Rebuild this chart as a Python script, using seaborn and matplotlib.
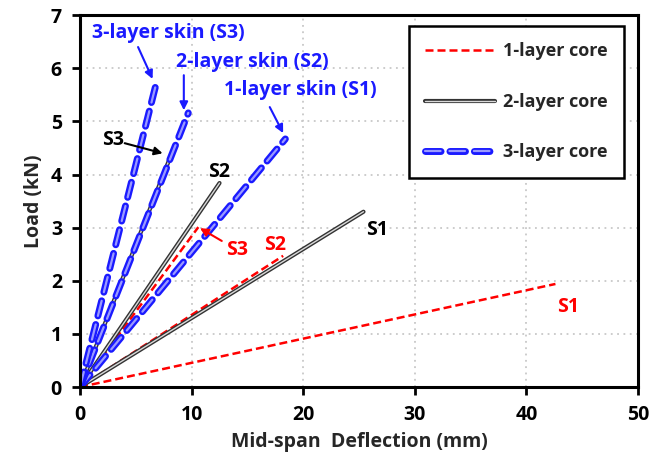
import matplotlib
matplotlib.use("Agg")
import matplotlib.pyplot as plt
import matplotlib.patheffects as pe
from matplotlib.lines import Line2D
import seaborn as sns
import pandas as pd

# ---- data (end points of load-deflection curves, start at origin) ----
core1_x = {"S1": [0, 42.6], "S2": [0, 18.2], "S3": [0, 10.6]}
core1_y = {"S1": [0, 1.94], "S2": [0, 2.47], "S3": [0, 3.01]}
core2_x = {"S1": [0, 25.4], "S2": [0, 12.5], "S3": [0, 8.2]}
core2_y = {"S1": [0, 3.30], "S2": [0, 3.84], "S3": [0, 4.39]}
core3_x = {"S1": [0, 18.4], "S2": [0, 9.7], "S3": [0, 6.8]}
core3_y = {"S1": [0, 4.67], "S2": [0, 5.16], "S3": [0, 5.69]}
legend_labels = ["1-layer core", "2-layer core", "3-layer core"]
x_ticks = [0, 10, 20, 30, 40, 50]
y_ticks = [0, 1, 2, 3, 4, 5, 6, 7]

sns.set_theme(style="white")
plt.rcParams["font.family"] = ["Open Sans", "DejaVu Sans"]
plt.rcParams["font.weight"] = "bold"

fig = plt.figure(figsize=(6.56, 4.74), dpi=100)
ax = fig.add_axes([0.122, 0.1835, 0.8506, 0.7845])

RED = "#ff0000"
BLUE = "#1a1aff"

def draw(xs, ys, style):
    for key in ["S1", "S2", "S3"]:
        df = pd.DataFrame({"x": xs[key], "y": ys[key]})
        n_before = len(ax.lines)
        sns.lineplot(data=df, x="x", y="y", ax=ax, sort=False, estimator=None, **style["kw"])
        for ln in ax.lines[n_before:]:
            if style.get("pe"):
                ln.set_path_effects(style["pe"])

red_kw = dict(color=RED, linewidth=1.8, linestyle=(0, (3.2, 1.6)))
black_kw = dict(color="#d9d9d9", linewidth=1.0, solid_capstyle="round")
black_pe = [pe.Stroke(linewidth=3.0, foreground="#333333"), pe.Normal()]
blue_kw = dict(color="#9a9aff", linewidth=1.6, linestyle=(0, (7.0, 4.0)), dash_capstyle="round")
blue_pe = [pe.Stroke(linewidth=5.0, foreground=BLUE, capstyle="round"), pe.Normal()]

draw(core1_x, core1_y, {"kw": red_kw})
draw(core2_x, core2_y, {"kw": black_kw, "pe": black_pe})
draw(core3_x, core3_y, {"kw": blue_kw, "pe": blue_pe})

ax.set_xlim(0, 50)
ax.set_ylim(0, 7)
ax.set_xticks(x_ticks)
ax.set_yticks(y_ticks)
ax.set_xticklabels([str(v) for v in x_ticks], fontsize=14, fontweight="bold")
ax.set_yticklabels([str(v) for v in y_ticks], fontsize=14, fontweight="bold")
ax.grid(True, linestyle=(0, (1, 2.5)), color="#c8c8c8", linewidth=1.3)
ax.tick_params(axis="both", direction="out", length=6, width=2, colors="black", pad=7,
               bottom=True, left=True)
for s in ax.spines.values():
    s.set_linewidth(2.2)
    s.set_color("black")
ax.set_xlabel("Mid-span  Deflection (mm)", fontsize=14, fontweight="bold", labelpad=5)
ax.set_ylabel("Load (kN)", fontsize=14, fontweight="bold", labelpad=5)

# legend
h1 = Line2D([], [], **red_kw)
h2 = Line2D([], [], color="#d9d9d9", linewidth=1.0, path_effects=black_pe)
h3 = Line2D([], [], **blue_kw, path_effects=blue_pe)
leg = ax.legend([h1, h2, h3], legend_labels, loc="upper right", bbox_to_anchor=(0.985, 0.985),
                frameon=True, fancybox=False, edgecolor="black", framealpha=1,
                prop={"size": 13, "weight": "bold"}, handlelength=3.9, labelspacing=1.8,
                borderpad=0.9, handletextpad=0.45, borderaxespad=0.3)
leg.get_frame().set_linewidth(1.8)

# annotations
def arrow(c):
    return dict(arrowstyle="-|>", color=c, lw=1.5, mutation_scale=12, shrinkA=0, shrinkB=0)

fs = 14
ax.text(7.9, 6.66, "3-layer skin (S3)", color=BLUE, fontsize=fs, fontweight="bold", ha="center", va="center")
ax.annotate("", xy=(6.5, 5.8), xytext=(5.2, 6.40), arrowprops=arrow(BLUE))
ax.text(15.4, 6.12, "2-layer skin (S2)", color=BLUE, fontsize=fs, fontweight="bold", ha="center", va="center")
ax.annotate("", xy=(9.3, 5.21), xytext=(9.3, 5.87), arrowprops=arrow(BLUE))
ax.text(19.7, 5.59, "1-layer skin (S1)", color=BLUE, fontsize=fs, fontweight="bold", ha="center", va="center")
ax.annotate("", xy=(18.2, 4.78), xytext=(17.0, 5.27), arrowprops=arrow(BLUE))

ax.text(2.96, 4.65, "S3", color="black", fontsize=fs, fontweight="bold", ha="center", va="center")
ax.annotate("", xy=(7.4, 4.40), xytext=(4.0, 4.59), arrowprops=arrow("black"))
ax.text(12.5, 4.05, "S2", color="black", fontsize=fs, fontweight="bold", ha="center", va="center")
ax.text(26.6, 2.95, "S1", color="black", fontsize=fs, fontweight="bold", ha="center", va="center")

ax.text(14.1, 2.58, "S3", color=RED, fontsize=fs, fontweight="bold", ha="center", va="center")
ax.annotate("", xy=(10.75, 2.99), xytext=(12.7, 2.75), arrowprops=arrow(RED))
ax.text(17.5, 2.67, "S2", color=RED, fontsize=fs, fontweight="bold", ha="center", va="center")
ax.text(43.7, 1.51, "S1", color=RED, fontsize=fs, fontweight="bold", ha="center", va="center")

fig.savefig("out.png", dpi=100)
